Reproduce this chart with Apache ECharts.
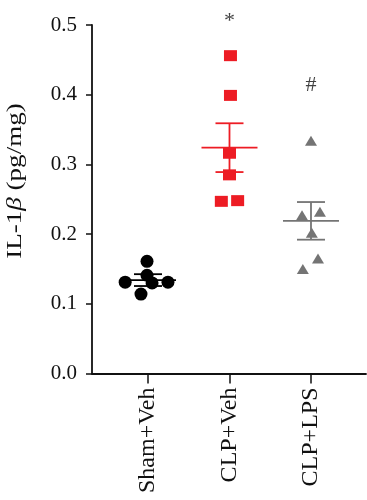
<!DOCTYPE html>
<html><head><meta charset="utf-8">
<script src="https://cdn.jsdelivr.net/npm/echarts@6/dist/echarts.min.js"></script>
<style>html,body{margin:0;padding:0;background:#fff}#c{width:367px;height:500px}</style>
</head><body><div id="c"></div>
<script>
// ---- data ----
const categories = ['Sham+Veh', 'CLP+Veh', 'CLP+LPS'];
const shamVeh = [0.161, 0.141, 0.131, 0.130, 0.131, 0.114];
const clpVeh  = [0.456, 0.399, 0.316, 0.285, 0.247, 0.248];
const clpLps  = [0.334, 0.227, 0.232, 0.202, 0.165, 0.150];
const means = [0.134, 0.324, 0.219];
const sems  = [0.0085, 0.035, 0.027];
const yTicks = [0, 0.1, 0.2, 0.3, 0.4, 0.5];
const sigMarks = ['', '*', '#'];
const sigLevels = [null, 0.505, 0.414];
// horizontal scatter (jitter) offsets, in category units
const jitSham = [-0.012, -0.012, -0.28, 0.05, 0.245, -0.086];
const jitClp  = [0.012, 0.012, 0, 0, -0.1, 0.1];
const jitLps  = [0, -0.11, 0.11, 0.01, 0.086, -0.1];

const colors = ['#000000', '#ED1C24', '#747474'];
const FONT = '"Liberation Serif", "Times New Roman", serif';

const chart = echarts.init(document.getElementById('c'), null, {renderer: 'canvas'});
const sigData = [];
sigMarks.forEach((m, i) => { if (m) sigData.push({value: [i + 1, sigLevels[i]], mark: m}); });

chart.setOption({
  animation: false,
  backgroundColor: '#fff',
  grid: {left: 92, right: 1, top: 25, bottom: 126.5, containLabel: false},
  xAxis: {
    type: 'value', min: 0.313, max: 3.675,
    splitLine: {show: false},
    axisLine: {show: true, onZero: false, lineStyle: {color: '#111', width: 1.8}},
    axisTick: {show: true, customValues: [1, 2, 3], length: 10, lineStyle: {color: '#111', width: 1.5}},
    axisLabel: {
      customValues: [1, 2, 3], rotate: 90, margin: 14,
      formatter: v => categories[Math.round(v) - 1] || '',
      fontFamily: FONT, fontSize: 24, color: '#111'
    }
  },
  yAxis: {
    type: 'value', min: yTicks[0], max: yTicks[yTicks.length - 1], interval: 0.1,
    splitLine: {show: false},
    axisLine: {show: true, lineStyle: {color: '#111', width: 1.8}},
    axisTick: {show: true, length: 6, lineStyle: {color: '#111', width: 1.5}},
    axisLabel: {formatter: v => v.toFixed(1), margin: 15, fontFamily: FONT, fontSize: 21, color: '#111'}
  },
  graphic: [{
    type: 'text', x: 16, y: 181, rotation: Math.PI / 2, scaleX: 1.32,
    style: {
      text: '{a|IL-1}{b|β}{a| (pg/mg)}',
      align: 'center', verticalAlign: 'middle',
      rich: {
        a: {fontFamily: FONT, fontSize: 20.5, fill: '#111'},
        b: {fontFamily: FONT, fontSize: 20.5, fontStyle: 'italic', fill: '#111'}
      }
    }
  }],
  series: [
    {
      type: 'custom', z: 1,
      data: means.map((m, i) => [i + 1, m, sems[i]]),
      renderItem: function (params, api) {
        const i = params.dataIndex;
        const x = api.value(0), m = api.value(1), s = api.value(2);
        const pm = api.coord([x, m]);
        const pt = api.coord([x, m + s]);
        const pb = api.coord([x, m - s]);
        const st = {stroke: colors[i], lineWidth: 1.8};
        return {type: 'group', children: [
          {type: 'line', shape: {x1: pm[0] - 28, y1: pm[1], x2: pm[0] + 28, y2: pm[1]}, style: st},
          {type: 'line', shape: {x1: pm[0], y1: pt[1], x2: pm[0], y2: pb[1]}, style: st},
          {type: 'line', shape: {x1: pm[0] - 14, y1: pt[1], x2: pm[0] + 14, y2: pt[1]}, style: st},
          {type: 'line', shape: {x1: pm[0] - 14, y1: pb[1], x2: pm[0] + 14, y2: pb[1]}, style: st}
        ]};
      }
    },
    {
      type: 'scatter', z: 3, symbol: 'circle', symbolSize: 13,
      itemStyle: {color: colors[0], opacity: 1},
      data: shamVeh.map((v, k) => [1 + jitSham[k], v])
    },
    {
      type: 'scatter', z: 3, symbol: 'rect', symbolSize: [13, 11],
      itemStyle: {color: colors[1], opacity: 1},
      data: clpVeh.map((v, k) => [2 + jitClp[k], v])
    },
    {
      type: 'scatter', z: 3, symbol: 'triangle', symbolSize: [12, 10],
      itemStyle: {color: colors[2], opacity: 1},
      data: clpLps.map((v, k) => [3 + jitLps[k], v])
    },
    {
      type: 'scatter', z: 4, symbolSize: 0, clip: false, silent: true,
      data: sigData,
      label: {
        show: true, position: 'inside',
        formatter: p => p.data.mark,
        fontFamily: FONT, fontSize: 22, color: '#111'
      }
    }
  ]
});
</script>
</body></html>
